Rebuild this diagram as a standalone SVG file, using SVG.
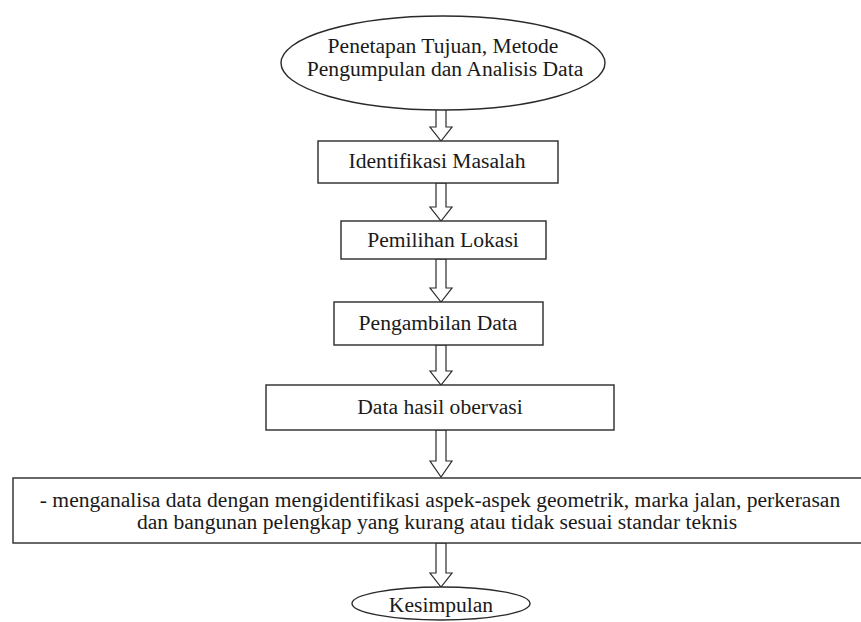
<svg xmlns="http://www.w3.org/2000/svg" width="861" height="622" viewBox="0 0 861 622">
<style>
.shape{fill:#fff;stroke:#2a2a2a;stroke-width:1.4}
.arrow{fill:#fff;stroke:#2a2a2a;stroke-width:1.2;stroke-linejoin:miter}
text{font-family:"Liberation Serif","Times New Roman",serif;font-size:21.6px;fill:#1a1a1a;text-anchor:middle}
</style>
<rect width="861" height="622" fill="#fff"/>
<g id="connectors">
<path class="arrow" d="M436,108 V127 H430 L441,141 L452,127 H446 V108 Z"/>
<path class="arrow" d="M436,183 V207 H430 L441,221 L452,207 H446 V183 Z"/>
<path class="arrow" d="M436,259 V288 H430 L441,302 L452,288 H446 V259 Z"/>
<path class="arrow" d="M436,345 V371 H430 L441,385 L452,371 H446 V345 Z"/>
<path class="arrow" d="M436,430 V461 H430 L441,477 L452,461 H446 V430 Z"/>
<path class="arrow" d="M436,543 V573 H430 L441,587 L452,573 H446 V543 Z"/>
</g>
<g id="n1">
<ellipse class="shape" cx="443" cy="63" rx="162" ry="47"/>
<text x="443" y="53">Penetapan Tujuan, Metode</text>
<text x="445" y="76">Pengumpulan dan Analisis Data</text>
</g>
<g id="n2">
<rect class="shape" x="318" y="141" width="240" height="42"/>
<text x="437" y="168">Identifikasi Masalah</text>
</g>
<g id="n3">
<rect class="shape" x="341" y="221" width="205" height="38"/>
<text x="443" y="247">Pemilihan Lokasi</text>
</g>
<g id="n4">
<rect class="shape" x="334" y="302" width="209" height="43"/>
<text x="438" y="330">Pengambilan Data</text>
</g>
<g id="n5">
<rect class="shape" x="266" y="385" width="348" height="45"/>
<text x="440" y="414">Data hasil obervasi</text>
</g>
<g id="n6">
<rect class="shape" x="13" y="478" width="856" height="65"/>
<text x="440" y="507">- menganalisa data dengan mengidentifikasi aspek-aspek geometrik, marka jalan, perkerasan</text>
<text x="437" y="529">dan bangunan pelengkap yang kurang atau tidak sesuai standar teknis</text>
</g>
<g id="n7">
<ellipse class="shape" cx="441" cy="603.5" rx="89" ry="16.5"/>
<text x="441" y="612">Kesimpulan</text>
</g>
</svg>
